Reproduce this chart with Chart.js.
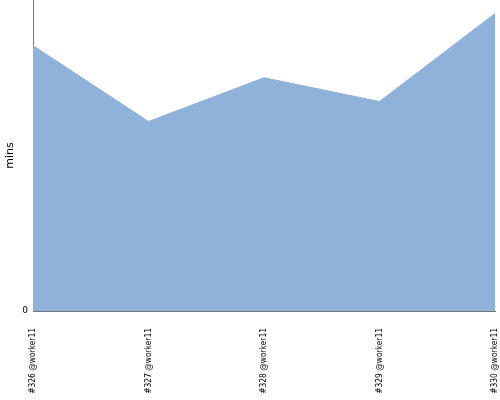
<!DOCTYPE html>
<html>
<head>
<meta charset="utf-8">
<script src="https://cdn.jsdelivr.net/npm/chart.js@4"></script>
<style>
  body { margin: 0; background: #fff; }
  #wrap { width: 500px; height: 400px; }
</style>
</head>
<body>
<div id="wrap"><canvas id="grafico1"></canvas></div>
<script>
const builds = ['#326 @worker11', '#327 @worker11', '#328 @worker11', '#329 @worker11', '#330 @worker11'];
const mins = [85.5, 61.1, 75.2, 67.5, 95.8];
const yTicks = [0];

const ctx = document.getElementById('grafico1');

new Chart(ctx, {
  type: 'line',
  data: {
    labels: builds,
    datasets: [{
      label: 'mins',
      data: mins,
      backgroundColor: '#8fb2da',
      borderWidth: 0,
      pointRadius: 0,
      fill: 'origin',
      tension: 0
    }]
  },
  options: {
    responsive: true,
    maintainAspectRatio: false,
    animation: false,
    layout: { padding: { top: 0, right: 5 } },
    plugins: { legend: { display: false }, tooltip: { enabled: false } },
    scales: {
      x: {
        offset: false,
        grid: { display: false },
        border: { color: '#777', width: 1 },
        afterFit: s => { s.height = 89; s.paddingRight = 0; s.paddingLeft = 0; },
        ticks: {
          minRotation: 90, maxRotation: 90,
          color: '#000',
          font: { family: 'DejaVu Sans Condensed', size: 8.4 },
          padding: 9
        }
      },
      y: {
        min: 0, max: 100,
        grid: { display: false, drawTicks: false },
        border: { color: '#777', width: 1 },
        afterFit: s => { s.width = 33; s.paddingTop = 0; },
        ticks: {
          stepSize: 100,
          color: '#000',
          padding: 5,
          font: { family: 'DejaVu Sans', size: 9 },
          callback: v => yTicks.includes(v) ? String(v) : ''
        },
        title: {
          display: true, text: 'mins', color: '#000',
          font: { family: 'DejaVu Sans', size: 11 }, padding: 4
        }
      }
    }
  }
});
</script>
</body>
</html>
